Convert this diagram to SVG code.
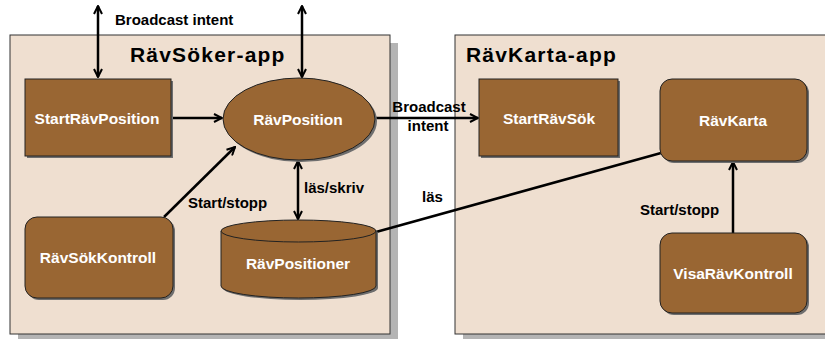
<svg xmlns="http://www.w3.org/2000/svg" width="825" height="339" viewBox="0 0 825 339">
  <defs>
    <marker id="arr" viewBox="0 0 10 10" refX="9" refY="5" markerWidth="10" markerHeight="10" markerUnits="userSpaceOnUse" orient="auto-start-reverse">
      <path d="M1,1 L9,5 L1,9" fill="none" stroke="#000" stroke-width="2"/>
    </marker>
  </defs>
  <style>
    .box { fill: #efdfd0; stroke: #333; stroke-width: 1; }
    .boxshadow { fill: #b4b4b4; }
    .node { fill: #996633; stroke: #222; stroke-width: 1; }
    .shadow { fill: #6e6e6e; }
    .nlabel { font-family: "Liberation Sans", Arial, sans-serif; font-weight: bold; font-size: 15.5px; fill: #fff; text-anchor: middle; }
    .title { font-family: "Liberation Sans", Arial, sans-serif; font-weight: bold; font-size: 21px; letter-spacing: 1.2px; fill: #000; }
    .elabel { font-family: "Liberation Sans", Arial, sans-serif; font-weight: bold; font-size: 15px; fill: #000; }
    .edge { stroke: #000; stroke-width: 2.5; fill: none; }
  </style>
  <rect width="825" height="339" fill="#fff"/>

  <!-- application containers -->
  <g id="ravsoker-app">
    <rect class="boxshadow" x="18" y="43" width="380" height="296"/>
    <rect class="box" x="10" y="35" width="380" height="299"/>
    <text class="title" x="130" y="62">RävSöker-app</text>
  </g>
  <g id="ravkarta-app">
    <rect class="boxshadow" x="463" y="43" width="370" height="296"/>
    <rect class="box" x="455" y="35" width="375" height="299"/>
    <text class="title" x="466" y="62">RävKarta-app</text>
  </g>

  <!-- connectors -->
  <g id="connectors">
    <line class="edge" x1="98" y1="6" x2="98" y2="77" marker-start="url(#arr)" marker-end="url(#arr)"/>
    <line class="edge" x1="302" y1="6" x2="302" y2="77" marker-start="url(#arr)" marker-end="url(#arr)"/>
    <line class="edge" x1="172" y1="118" x2="222" y2="118" marker-end="url(#arr)"/>
    <line class="edge" x1="164" y1="217" x2="235" y2="147" marker-end="url(#arr)"/>
    <line class="edge" x1="298" y1="161" x2="298" y2="219" marker-start="url(#arr)" marker-end="url(#arr)"/>
    <line class="edge" x1="376" y1="118" x2="478" y2="118" marker-end="url(#arr)"/>
    <line class="edge" x1="376" y1="232" x2="661" y2="153"/>
    <line class="edge" x1="733" y1="233" x2="733" y2="162" marker-end="url(#arr)"/>
    <text class="elabel" x="115" y="25">Broadcast intent</text>
    <text class="elabel" x="429" y="112" text-anchor="middle">Broadcast</text>
    <text class="elabel" x="428" y="131" text-anchor="middle">intent</text>
    <text class="elabel" x="188" y="208">Start/stopp</text>
    <text class="elabel" x="304" y="193">läs/skriv</text>
    <text class="elabel" x="422" y="202">läs</text>
    <text class="elabel" x="640" y="215">Start/stopp</text>
  </g>

  <!-- nodes -->
  <g id="StartRavPosition">
    <rect class="shadow" x="27" y="81" width="146" height="77"/>
    <rect class="node" x="25" y="79" width="146" height="77"/>
    <text class="nlabel" x="97" y="124">StartRävPosition</text>
  </g>
  <g id="RavPosition">
    <ellipse class="shadow" cx="301" cy="121" rx="76" ry="41"/>
    <ellipse class="node" cx="299" cy="119" rx="76" ry="41"/>
    <text class="nlabel" x="298" y="125">RävPosition</text>
  </g>
  <g id="RavSokKontroll">
    <rect class="shadow" x="27" y="219" width="148" height="81" rx="12"/>
    <rect class="node" x="25" y="217" width="148" height="81" rx="12"/>
    <text class="nlabel" x="98" y="263">RävSökKontroll</text>
  </g>
  <g id="RavPositioner">
    <path class="shadow" d="M223,233 A77.5,11 0 0 1 378,233 L378,288 A77.5,12 0 0 1 223,288 Z"/>
    <path class="node" d="M221,231 A77.5,11 0 0 1 376,231 L376,286 A77.5,12 0 0 1 221,286 Z"/>
    <path class="node" d="M221,231 A77.5,11 0 0 0 376,231" fill="none"/>
    <text class="nlabel" x="298" y="269">RävPositioner</text>
  </g>
  <g id="StartRavSok">
    <rect class="shadow" x="481" y="81" width="139" height="77"/>
    <rect class="node" x="479" y="79" width="139" height="77"/>
    <text class="nlabel" x="549" y="124">StartRävSök</text>
  </g>
  <g id="RavKarta">
    <rect class="shadow" x="662" y="81" width="147" height="82" rx="12"/>
    <rect class="node" x="660" y="79" width="147" height="82" rx="12"/>
    <text class="nlabel" x="733" y="126">RävKarta</text>
  </g>
  <g id="VisaRavKontroll">
    <rect class="shadow" x="662" y="235" width="147" height="80" rx="12"/>
    <rect class="node" x="660" y="233" width="147" height="80" rx="12"/>
    <text class="nlabel" x="733" y="279">VisaRävKontroll</text>
  </g>
</svg>
